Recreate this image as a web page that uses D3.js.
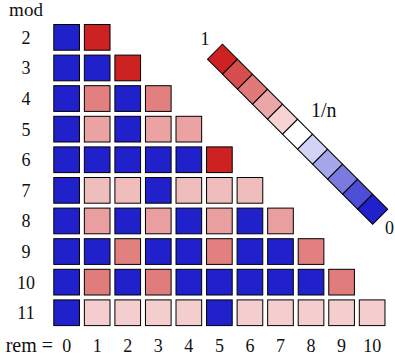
<!DOCTYPE html>
<html><head><meta charset="utf-8">
<script src="https://cdn.jsdelivr.net/npm/d3@7"></script>
<style>
html,body{margin:0;padding:0;background:#fff;}
text{font-family:"Liberation Serif",serif;fill:#111;}
</style></head>
<body><svg id="c" width="395" height="355"></svg>
<script>
const mods = [2,3,4,5,6,7,8,9,10,11];
const rems = [0,1,2,3,4,5,6,7,8,9,10];
const probs = [
  [0,1],
  [0,0,1],
  [0,1/2,0,1/2],
  [0,1/3,0,1/3,1/3],
  [0,0,0,0,0,1],
  [0,1/5,1/5,0,1/5,1/5,1/5],
  [0,1/4,0,1/4,0,1/4,0,1/4],
  [0,0,1/3,0,0,1/3,0,0,1/3],
  [0,1/3,0,1/3,0,0,0,0,0,1/3],
  [0,1/9,1/9,1/9,1/9,0,1/9,1/9,1/9,1/9,1/9]
];
const legendSteps = [1,0.8,0.6,0.4,0.2,0,-0.2,-0.4,-0.6,-0.8,-1];
const legendLabels = ["1","1/n","0"];

const RED = "#cc2222", BLUE = "#2121cc", WHITE = "#ffffff";
const redI = d3.interpolateRgb(WHITE, RED);
const blueI = d3.interpolateRgb(WHITE, BLUE);
function stepColor(t){ return t >= 0 ? redI(t) : blueI(-t); }
function cellColor(v, n){
  if (v <= 0) return BLUE;
  let t = Math.log(v*n)/Math.log(n);
  if (t > 0) return redI(Math.min(1, 0.15 + 0.85*t));
  return blueI(-t);
}

const svg = d3.select("#c");
const x = d3.scaleBand().domain(rems).range([51.36, 51.36+11*30.55]).paddingInner(0.16).paddingOuter(0.08);
const y = d3.scaleBand().domain(mods).range([22.05, 22.05+10*30.6]).paddingInner(0.16).paddingOuter(0.08);

const cells = [];
mods.forEach((m,i)=>probs[i].forEach((v,r)=>cells.push({m, r, v})));

svg.append("g").selectAll("rect").data(cells).join("rect")
  .attr("x", d=>x(d.r)).attr("y", d=>y(d.m))
  .attr("width", x.bandwidth()).attr("height", y.bandwidth())
  .attr("fill", d=>cellColor(d.v, d.m))
  .attr("stroke", "#000").attr("stroke-width", 1);

svg.append("g").selectAll("text").data(mods).join("text")
  .attr("x", 26).attr("y", d=>y(d)+y.bandwidth()/2+6.5)
  .attr("text-anchor","middle").attr("font-size",18).text(d=>d);

svg.append("g").selectAll("text").data(rems).join("text")
  .attr("x", d=>x(d)+x.bandwidth()/2).attr("y", 352)
  .attr("text-anchor","middle").attr("font-size",18).text(d=>d);

svg.append("text").attr("x",26).attr("y",16).attr("text-anchor","middle").attr("font-size",19).text("mod");
svg.append("text").attr("x",53).attr("y",352).attr("text-anchor","end").attr("font-size",20).text("rem =");

const lg = svg.append("g").attr("transform","translate(215,51.65) rotate(45)");
const lx = d3.scaleBand().domain(d3.range(legendSteps.length)).range([0,233.6]);
lg.selectAll("rect").data(legendSteps).join("rect")
  .attr("x",(d,i)=>lx(i)).attr("y",-10.6)
  .attr("width",lx.bandwidth()).attr("height",21.2)
  .attr("fill",d=>stepColor(d)).attr("stroke","#000").attr("stroke-width",1);

svg.append("text").attr("x",205).attr("y",45).attr("text-anchor","middle").attr("font-size",18).text(legendLabels[0]);
svg.append("text").attr("x",311).attr("y",117).attr("text-anchor","start").attr("font-size",20).text(legendLabels[1]);
svg.append("text").attr("x",385).attr("y",234).attr("text-anchor","start").attr("font-size",18).text(legendLabels[2]);
</script></body></html>
